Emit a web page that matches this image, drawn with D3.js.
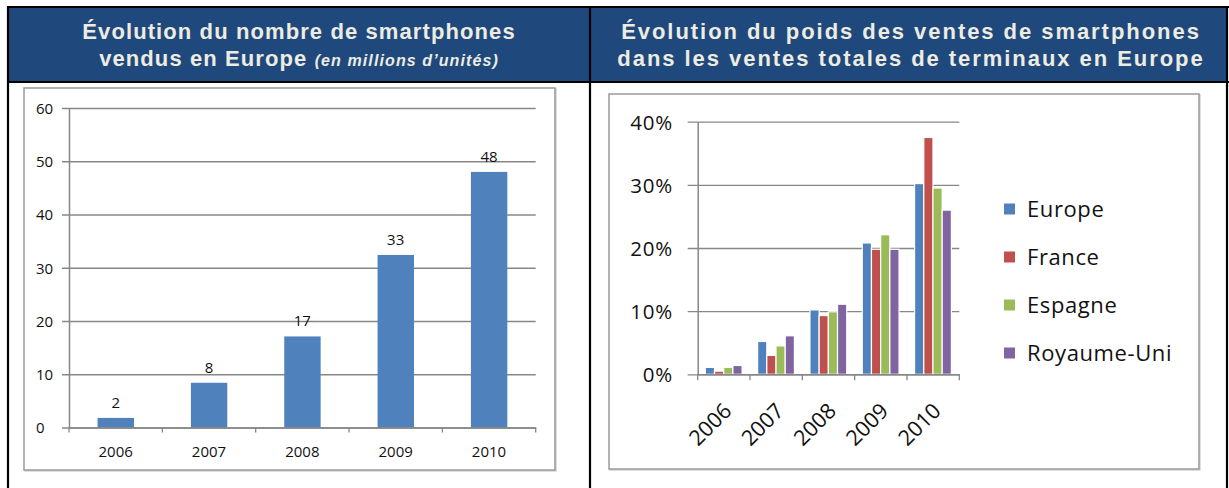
<!DOCTYPE html>
<html>
<head>
<meta charset="utf-8">
<script src="https://cdn.jsdelivr.net/npm/d3@7"></script>
<style>
  html, body { margin: 0; padding: 0; background: #fff; }
  svg { display: block; }
</style>
</head>
<body>
<svg id="chart" width="1229" height="488"></svg>
<script>
// data
const years = ["2006", "2007", "2008", "2009", "2010"];
const unitsSold = [1.8, 8.4, 17.1, 32.4, 48.0];
const unitLabels = ["2", "8", "17", "33", "48"];
const leftTicks = [0, 10, 20, 30, 40, 50, 60];

const seriesNames = ["Europe", "France", "Espagne", "Royaume-Uni"];
const shareEurope = [1.1, 5.2, 10.2, 20.8, 30.2];
const shareFrance = [0.5, 3.0, 9.3, 19.8, 37.5];
const shareEspagne = [1.1, 4.5, 9.9, 22.1, 29.5];
const shareRoyaumeUni = [1.4, 6.1, 11.1, 19.8, 26.0];
const rightTicks = [0, 10, 20, 30, 40];

const seriesColors = ["#4f81bd", "#c0504d", "#9bbb59", "#8064a2"];
const gridColor = "#878787";

const svg = d3.select("#chart");

// ---- header band + table borders
svg.append("rect").attr("x", 8).attr("y", 7).attr("width", 1219).attr("height", 75).attr("fill", "#1f497d");

const titleFont = "'Liberation Sans', Arial, sans-serif";
function title(cx, spacing, lines) {
    const t = svg.append("g")
        .attr("font-family", titleFont)
        .attr("font-weight", "bold")
        .attr("fill", "#eeece1")
        .attr("text-anchor", "middle");
    lines.forEach((parts, i) => {
        const txt = t.append("text")
            .attr("x", cx)
            .attr("y", 39 + i * 27)
            .attr("font-size", 22)
            .attr("letter-spacing", spacing);
        parts.forEach(p => {
            const s = txt.append("tspan").text(p.text);
            if (p.italic) s.attr("font-style", "italic").attr("font-size", 16).attr("letter-spacing", 1.1);
        })
    })
}
title(299, 1.1, [[{text: "Évolution du nombre de smartphones"}],
                 [{text: "vendus en Europe "}, {text: "(en millions d’unités)", italic: true}]]);
title(911, 1.95, [[{text: "Évolution du poids des ventes de smartphones"}],
                  [{text: "dans les ventes totales de terminaux en Europe"}]]);

const borders = svg.append("g").attr("stroke", "#000").attr("stroke-width", 2.2);
borders.append("line").attr("x1", 7).attr("x2", 1229).attr("y1", 7).attr("y2", 7);
borders.append("line").attr("x1", 7).attr("x2", 1229).attr("y1", 82).attr("y2", 82);
[8, 590, 1227].forEach(x => borders.append("line").attr("x1", x).attr("x2", x).attr("y1", 6).attr("y2", 488));

// chart frames
function frame(x0, y0, x1, y1) {
    svg.append("rect").attr("x", x0 + 1).attr("y", y0 + 1).attr("width", x1 - x0).attr("height", y1 - y0)
        .attr("fill", "none").attr("stroke", "#d4d4d4").attr("stroke-width", 1.5);
    svg.append("rect").attr("x", x0).attr("y", y0).attr("width", x1 - x0).attr("height", y1 - y0)
        .attr("fill", "#fff").attr("stroke", "#999").attr("stroke-width", 1.5);
}
frame(24, 88, 555, 470);
frame(609, 94, 1199, 469);

// ---- left chart: units sold
const xL = d3.scaleBand().domain(years).range([69, 535.7]);
const yL = d3.scaleLinear().domain([0, 60]).range([427.5, 108]);
const labelFont = "'Open Sans', sans-serif";
const leftSize = 15;

const gL = svg.append("g").attr("font-family", labelFont);

gL.append("g")
    .attr("transform", `translate(${xL.range()[0]},0)`)
    .call(d3.axisLeft(yL).tickValues(leftTicks).tickSize(7).tickSizeOuter(0))
    .call(g => g.select(".domain").attr("stroke", gridColor).attr("stroke-width", 1.5))
    .call(g => g.selectAll(".tick line").attr("x1", xL.range()[1] - xL.range()[0])
        .attr("stroke", gridColor).attr("stroke-width", 1.3))
    .call(g => g.selectAll(".tick text").attr("x", 36 - 69).attr("text-anchor", "start")
        .attr("font-family", labelFont).attr("font-size", leftSize).attr("fill", "#111").attr("dy", "0.36em"));

gL.append("g")
    .selectAll("rect")
    .data(years)
    .join("rect")
    .attr("x", (d, i) => xL(d) + xL.bandwidth() * 0.306)
    .attr("y", (d, i) => yL(unitsSold[i]))
    .attr("width", xL.bandwidth() * 0.39)
    .attr("height", (d, i) => yL(0) - yL(unitsSold[i]))
    .attr("fill", seriesColors[0]);

gL.append("g")
    .attr("font-size", leftSize)
    .attr("text-anchor", "middle")
    .attr("fill", "#111")
    .selectAll("text")
    .data(years)
    .join("text")
    .attr("x", d => xL(d) + xL.bandwidth() / 2)
    .attr("y", (d, i) => yL(unitsSold[i]) - 10)
    .text((d, i) => unitLabels[i]);

gL.append("g")
    .attr("transform", `translate(0,${yL(0)})`)
    .call(d3.axisBottom(xL).tickSize(0).tickSizeOuter(0))
    .call(g => g.select(".domain").attr("stroke", gridColor).attr("stroke-width", 1.5))
    .call(g => g.selectAll(".tick text").attr("font-family", labelFont).attr("font-size", leftSize)
        .attr("fill", "#111").attr("y", 29).attr("dy", 0));

gL.append("g")
    .attr("stroke", gridColor).attr("stroke-width", 1.3)
    .selectAll("line")
    .data([xL.range()[0]].concat(years.map(d => xL(d) + xL.bandwidth())))
    .join("line")
    .attr("x1", d => d).attr("x2", d => d)
    .attr("y1", yL(0)).attr("y2", yL(0) + 5);

// ---- right chart: share of smartphones
const shares = [shareEurope, shareFrance, shareEspagne, shareRoyaumeUni];
const xR = d3.scaleBand().domain(years).range([697.7, 959.3]);
const xS = d3.scaleBand().domain(seriesNames).range([7.6, 7.6 + 36.8]);
const yR = d3.scaleLinear().domain([0, 40]).range([374.3, 121.7]);
const color = d3.scaleOrdinal(seriesNames, seriesColors);

const gR = svg.append("g").attr("font-family", labelFont);

gR.append("g")
    .attr("transform", `translate(${xR.range()[0]},0)`)
    .call(d3.axisLeft(yR).tickValues(rightTicks).tickSize(10).tickSizeOuter(0).tickFormat(d => d + "%"))
    .call(g => g.select(".domain").attr("stroke", gridColor).attr("stroke-width", 1.5))
    .call(g => g.selectAll(".tick line").attr("x1", xR.range()[1] - xR.range()[0])
        .attr("stroke", gridColor).attr("stroke-width", 1.3))
    .call(g => g.selectAll(".tick text").attr("x", 673 - 697.7).attr("font-family", labelFont)
        .attr("font-size", 20.5).attr("letter-spacing", 0.8).attr("fill", "#111").attr("dy", "0.36em"));

gR.append("g")
    .selectAll("g")
    .data(years)
    .join("g")
    .attr("transform", d => `translate(${xR(d)},0)`)
    .selectAll("rect")
    .data((d, i) => seriesNames.map((s, k) => ({s, v: shares[k][i]})))
    .join("rect")
    .attr("x", d => xS(d.s))
    .attr("y", d => yR(d.v))
    .attr("width", xS.bandwidth())
    .attr("height", d => yR(0) - yR(d.v))
    .attr("fill", d => color(d.s))
    .attr("stroke", "#fff")
    .attr("stroke-width", 1.2);

gR.append("g")
    .attr("transform", `translate(0,${yR(0)})`)
    .call(d3.axisBottom(xR).tickSize(0).tickSizeOuter(0))
    .call(g => g.select(".domain").attr("stroke", gridColor).attr("stroke-width", 1.5))
    .call(g => g.selectAll(".tick text")
        .attr("font-family", labelFont).attr("font-size", 21.5).attr("fill", "#111")
        .attr("text-anchor", "end").attr("dy", 0).attr("y", 0)
        .attr("transform", "translate(9,38) rotate(-45)"));

gR.append("g")
    .attr("stroke", gridColor).attr("stroke-width", 1.3)
    .selectAll("line")
    .data([xR.range()[0]].concat(years.map(d => xR(d) + xR.bandwidth())))
    .join("line")
    .attr("x1", d => d).attr("x2", d => d)
    .attr("y1", yR(0)).attr("y2", yR(0) + 6);

// legend
const legend = gR.append("g")
    .selectAll("g")
    .data(seriesNames)
    .join("g")
    .attr("transform", (d, i) => `translate(1004,${209 + i * 48})`);
legend.append("rect").attr("x", 0).attr("y", -5.5).attr("width", 11).attr("height", 11).attr("fill", d => color(d));
legend.append("text").attr("x", 23).attr("dy", "0.36em").attr("font-size", 22)
    .attr("letter-spacing", 0.6).attr("fill", "#111").text(d => d);
</script>
</body>
</html>
